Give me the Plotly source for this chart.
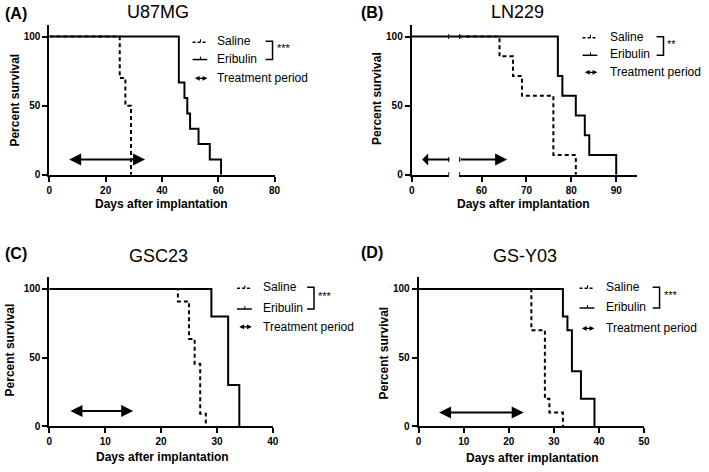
import plotly.graph_objects as go

W, H = 709, 472

# ---------------- data ----------------
a_sal_days = [0, 25, 27, 29]
a_sal_surv = [100, 70, 50, 0]
a_eri_days = [0, 46, 48, 49, 50, 53, 57, 61]
a_eri_surv = [100, 66.7, 55.6, 44.4, 33.3, 22.2, 11.1, 0]
a_treat = [6.5, 34]

b_pre_days = [0, 8.4]          # segment before the axis break
b_pre_surv = [100, 100]
b_sal_days = [55, 64, 67, 69, 76, 81]
b_sal_surv = [100, 85.7, 71.4, 57.1, 14.3, 0]
b_eri_days = [55, 77, 78, 81, 83, 84, 90]
b_eri_surv = [100, 71.4, 57.1, 42.9, 28.6, 14.3, 0]
b_treat_pre = [2, 8.4]
b_treat_post = [55, 65.7]

c_sal_days = [0, 23, 25, 26, 27, 28]
c_sal_surv = [100, 90.9, 63.6, 45.5, 9.1, 0]
c_eri_days = [0, 29, 32, 34]
c_eri_surv = [100, 80, 30, 0]
c_treat = [3.5, 15]

d_sal_days = [0, 25, 28, 29, 32]
d_sal_surv = [100, 70, 20, 10, 0]
d_eri_days = [0, 32, 33, 34, 36, 39]
d_eri_surv = [100, 80, 70, 40, 20, 0]
d_treat = [4.2, 23.3]

titles = ["U87MG", "LN229", "GSC23", "GS-Y03"]
letters = ["(A)", "(B)", "(C)", "(D)"]
stars = ["***", "**", "***", "***"]
legend_names = ["Saline", "Eribulin", "Treatment period"]
y_ticks = [0, 50, 100]
a_xticks = [0, 20, 40, 60, 80]
b_xticks_pre = [0]
b_xticks_post = [60, 70, 80, 90]
c_xticks = [0, 10, 20, 30, 40]
d_xticks = [0, 10, 20, 30, 40, 50]

FONT = "Liberation Sans, Arial, sans-serif"


def X(p):
    return p / W


def Y(p):
    return 1 - p / H


fig = go.Figure()

SOLID = dict(color="black", width=2, shape="hv")
DASH = dict(color="black", width=2, shape="hv", dash="4px,3px")


def add_pair(xs_s, ys_s, xs_e, ys_e, xa, ya):
    fig.add_trace(go.Scatter(x=xs_s, y=ys_s, mode="lines", line=DASH,
                             xaxis=xa, yaxis=ya, showlegend=False, hoverinfo="skip"))
    fig.add_trace(go.Scatter(x=xs_e, y=ys_e, mode="lines", line=SOLID,
                             xaxis=xa, yaxis=ya, showlegend=False, hoverinfo="skip"))


add_pair(a_sal_days, a_sal_surv, a_eri_days, a_eri_surv, "x", "y")
fig.add_trace(go.Scatter(x=b_pre_days, y=b_pre_surv, mode="lines", line=SOLID,
                         xaxis="x2", yaxis="y2", showlegend=False, hoverinfo="skip"))
add_pair(b_sal_days, b_sal_surv, b_eri_days, b_eri_surv, "x3", "y2")
add_pair(c_sal_days, c_sal_surv, c_eri_days, c_eri_surv, "x4", "y3")
add_pair(d_sal_days, d_sal_surv, d_eri_days, d_eri_surv, "x5", "y4")

TICKFONT = dict(family=FONT, size=10, color="black", weight="bold")


def xax(dom, rng, ticks, anchor):
    return dict(domain=[X(dom[0]), X(dom[1])], range=rng, tickvals=ticks,
                anchor=anchor, showline=True, linecolor="black", linewidth=2,
                ticks="outside", ticklen=5, tickwidth=2, tickcolor="black",
                showgrid=False, zeroline=False, tickfont=TICKFONT, fixedrange=True)


def yax(dom, rng, anchor):
    return dict(domain=[Y(dom[1]), Y(dom[0])], range=rng, tickvals=y_ticks,
                anchor=anchor, showline=True, linecolor="black", linewidth=2,
                ticks="outside", ticklen=5, tickwidth=2, tickcolor="black",
                showgrid=False, zeroline=False, tickfont=TICKFONT, fixedrange=True)


YR_TOP = [0, 108.6]
YR_BOT = [0, 108.4]
b_pre_rng = [0, 8.4]
b_post_rng = [55, 94.6]

fig.update_layout(
    xaxis=xax([47, 275], [0, 80], a_xticks, "y"),
    yaxis=yax([25, 177], YR_TOP, "x"),
    xaxis2=xax([414, 452], b_pre_rng, b_xticks_pre, "y2"),
    xaxis3=xax([462, 642], b_post_rng, b_xticks_post, "y2"),
    yaxis2=yax([25, 177], YR_TOP, "x2"),
    xaxis4=xax([47, 273.3], [0, 40], c_xticks, "y3"),
    yaxis3=yax([281, 431.7], YR_BOT, "x4"),
    xaxis5=xax([421, 649.3], [0, 50], d_xticks, "y4"),
    yaxis4=yax([281, 431.7], YR_BOT, "x5"),
)

ann = []
shapes = []


def arrow(xr, yv, xa, ya, side="end+start"):
    ann.append(dict(x=xr[1], y=yv, ax=xr[0], ay=yv, xref=xa, yref=ya,
                    axref=xa, ayref=ya, showarrow=True, arrowhead=2,
                    arrowside=side, arrowwidth=2, arrowsize=1.2,
                    arrowcolor="black", text=""))


arrow(a_treat, 11, "x", "y")
arrow(b_treat_pre, 11, "x2", "y2", side="start")
arrow(b_treat_post, 11, "x3", "y2", side="end")
arrow(c_treat, 11, "x4", "y3")
arrow(d_treat, 10, "x5", "y4")

# axis break marks in panel B
for yv in [0, 11, 100]:
    shapes.append(dict(type="line", xref="x2", yref="y2", x0=b_pre_rng[1], x1=b_pre_rng[1],
                       y0=yv - 1.8, y1=yv + 1.8, line=dict(color="black", width=2)))
    shapes.append(dict(type="line", xref="x3", yref="y2", x0=b_post_rng[0], x1=b_post_rng[0],
                       y0=yv - 1.8, y1=yv + 1.8, line=dict(color="black", width=2)))
shapes.append(dict(type="line", xref="paper", yref="y2", x0=X(452), x1=X(462),
                   y0=100, y1=100, line=dict(color="black", width=2)))

panels = [
    dict(title=(157, 12), letter=(0, 14), xt=(161, 207), yt=(12, 101),
         leg=(192, 216, 41.7, 59.3, 79.3), br=(266, 273), st=275),
    dict(title=(521, 12), letter=(361, 13), xt=(527, 207), yt=(379, 100),
         leg=(587, 614, 37.3, 55, 73.3), br=(662, 669), st=671),
    dict(title=(157, 259), letter=(0, 257), xt=(162, 463), yt=(7, 354),
         leg=(237, 262, 291, 312, 331), br=(308, 315), st=317),
    dict(title=(529, 259), letter=(361, 256), xt=(536, 464), yt=(386, 358),
         leg=(584, 610, 291, 311, 332.7), br=(658, 665), st=667),
]

for i, p in enumerate(panels):
    ann.append(dict(text=titles[i], x=X(p["title"][0]), y=Y(p["title"][1]), xref="paper",
                    yref="paper", showarrow=False, xanchor="center", yanchor="middle",
                    font=dict(family=FONT, size=18, color="black")))
    ann.append(dict(text=letters[i], x=X(p["letter"][0]), y=Y(p["letter"][1]), xref="paper",
                    yref="paper", showarrow=False, xanchor="left", yanchor="middle",
                    font=dict(family=FONT, size=16, color="black", weight="bold")))
    ann.append(dict(text="Days after implantation", x=X(p["xt"][0]), y=Y(p["xt"][1]),
                    xref="paper", yref="paper", showarrow=False, xanchor="center",
                    yanchor="middle", font=dict(family=FONT, size=12, color="black", weight="bold")))
    ann.append(dict(text="Percent survival", x=X(p["yt"][0]), y=Y(p["yt"][1]),
                    xref="paper", yref="paper", showarrow=False, xanchor="center",
                    yanchor="middle", textangle=-90,
                    font=dict(family=FONT, size=12, color="black", weight="bold")))
    sx, tx, y1, y2, y3 = p["leg"]
    for name, yy in zip(legend_names, (y1, y2, y3)):
        ann.append(dict(text=name, x=X(tx - 1), y=Y(yy), xref="paper", yref="paper",
                        showarrow=False, xanchor="left", yanchor="middle",
                        font=dict(family=FONT, size=12, color="black")))
    shapes.append(dict(type="line", xref="paper", yref="paper", x0=X(sx), x1=X(sx + 15),
                       y0=Y(y1 + 1), y1=Y(y1 + 1),
                       line=dict(color="black", width=1.5, dash="3px,2px")))
    shapes.append(dict(type="line", xref="paper", yref="paper", x0=X(sx + 8), x1=X(sx + 8),
                       y0=Y(y1 + 1), y1=Y(y1 - 2), line=dict(color="black", width=1)))
    shapes.append(dict(type="line", xref="paper", yref="paper", x0=X(sx), x1=X(sx + 15),
                       y0=Y(y2 + 1), y1=Y(y2 + 1), line=dict(color="black", width=1.5)))
    shapes.append(dict(type="line", xref="paper", yref="paper", x0=X(sx + 8), x1=X(sx + 8),
                       y0=Y(y2 + 1), y1=Y(y2 - 2), line=dict(color="black", width=1)))
    ann.append(dict(x=X(sx + 15), y=Y(y3), ax=-14, ay=0, xref="paper", yref="paper",
                    showarrow=True, arrowhead=2, arrowside="end+start", arrowwidth=1.2,
                    arrowsize=0.8, arrowcolor="black", text=""))
    b0, b1 = p["br"]
    shapes.append(dict(type="path", xref="paper", yref="paper",
                       path=f"M {X(b0)},{Y(y1)} L {X(b1)},{Y(y1)} L {X(b1)},{Y(y2 + 1)} L {X(b0)},{Y(y2 + 1)}",
                       line=dict(color="black", width=1.5)))
    ann.append(dict(text=stars[i], x=X(p["st"]), y=Y((y1 + y2) / 2 - 2), xref="paper",
                    yref="paper", showarrow=False, xanchor="left", yanchor="middle",
                    font=dict(family=FONT, size=11, color="black")))

fig.update_layout(
    width=W, height=H, margin=dict(l=0, r=0, t=0, b=0),
    paper_bgcolor="white", plot_bgcolor="white",
    annotations=ann, shapes=shapes, showlegend=False,
)

fig.write_html("out.html", config={"displayModeBar": False},
               post_script="document.body.style.margin='0';document.body.style.overflow='hidden';")
